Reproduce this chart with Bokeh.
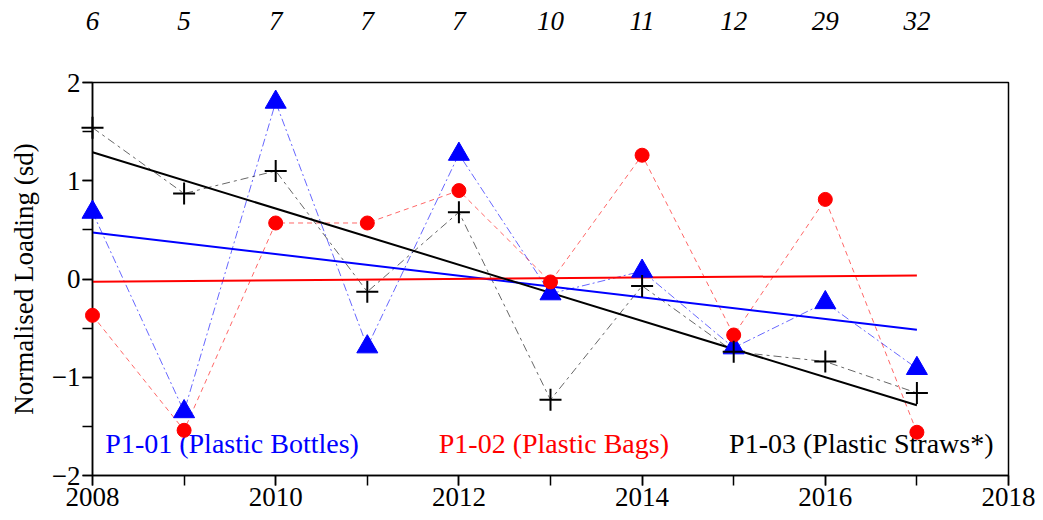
import numpy as np
from bokeh.plotting import figure
from bokeh.models import (LinearAxis, SingleIntervalTicker, FixedTicker, Label, Range1d)
from bokeh.embed import file_html
from bokeh.resources import INLINE

years = [2008, 2009, 2010, 2011, 2012, 2013, 2014, 2015, 2016, 2017]
counts = ["6", "5", "7", "7", "7", "10", "11", "12", "29", "32"]
bottles = [0.68, -1.35, 1.80, -0.69, 1.27, -0.15, 0.08, -0.70, -0.24, -0.91]
bags = [-0.37, -1.54, 0.57, 0.57, 0.90, -0.03, 1.26, -0.57, 0.81, -1.56]
straws = [1.54, 0.87, 1.10, -0.13, 0.68, -1.23, -0.07, -0.74, -0.84, -1.16]

FONT = "Liberation Serif"
BLUE = "#0000ff"
RED = "#ff0000"
BLACK = "#000000"

p = figure(width=1040, height=515, output_backend="svg", toolbar_location=None,
           x_range=Range1d(2008, 2018), y_range=Range1d(-2, 2),
           min_border_left=92, min_border_right=32, min_border_top=82, min_border_bottom=40)
p.xaxis.visible = False
p.yaxis.visible = False
p.grid.visible = False
p.outline_line_color = "black"
p.outline_line_width = 1.5

xax = LinearAxis(ticker=SingleIntervalTicker(interval=2, num_minor_ticks=2))
yax = LinearAxis(ticker=SingleIntervalTicker(interval=1, num_minor_ticks=2),
                 axis_label="Normalised Loading (sd)")
for ax in (xax, yax):
    ax.major_tick_out = 10
    ax.major_tick_in = 0
    ax.minor_tick_out = 10
    ax.minor_tick_in = 0
    ax.axis_line_width = 1.5
    ax.major_tick_line_width = 1.5
    ax.minor_tick_line_width = 1.5
    ax.major_label_text_font = FONT
    ax.major_label_text_font_size = "27px"
    ax.major_label_text_color = "black"
    ax.major_label_standoff = 2
yax.axis_label_text_font = FONT
yax.axis_label_text_font_size = "27px"
yax.axis_label_text_font_style = "normal"
yax.axis_label_text_color = "black"
yax.axis_label_standoff = 10
p.add_layout(xax, "below")
p.add_layout(yax, "left")

# top axis carrying the counts
tax = LinearAxis(ticker=FixedTicker(ticks=years),
                 major_label_overrides={y: c for y, c in zip(years, counts)})
tax.axis_line_color = None
tax.major_tick_line_color = None
tax.minor_tick_line_color = None
tax.major_label_text_font = FONT
tax.major_label_text_font_size = "27px"
tax.major_label_text_font_style = "italic"
tax.major_label_text_color = "black"
tax.major_label_standoff = 47
p.add_layout(tax, "above")

series = [
    (bottles, BLUE, "8 3 2 3"),
    (bags, RED, "5 4"),
    (straws, BLACK, "8 4 3 4"),
]
for vals, col, dash in series:
    p.line(years, vals, line_color=col, line_width=1, line_dash=dash, line_alpha=0.6)

# regression trend lines computed from the data
for vals, col, _ in series:
    slope, icpt = np.polyfit(years, vals, 1)
    xs = [years[0], years[-1]]
    p.line(xs, [slope * x + icpt for x in xs], line_color=col, line_width=2)

p.scatter(years, bottles, marker="triangle", size=21, fill_color=BLUE, line_color=BLUE, level="overlay")
p.scatter(years, bags, marker="circle", size=14, fill_color=RED, line_color=RED, level="overlay")
p.scatter(years, straws, marker="cross", size=22, line_color=BLACK, line_width=2, level="overlay")

for txt, x, col in [("P1-01 (Plastic Bottles)", 2008.14, BLUE),
                    ("P1-02 (Plastic Bags)", 2011.78, RED),
                    ("P1-03 (Plastic Straws*)", 2014.95, BLACK)]:
    p.add_layout(Label(x=x, y=-1.83, text=txt, text_color=col, text_font=FONT,
                       text_font_size="28px"))

open("out.html", "w").write(file_html(p, INLINE))
